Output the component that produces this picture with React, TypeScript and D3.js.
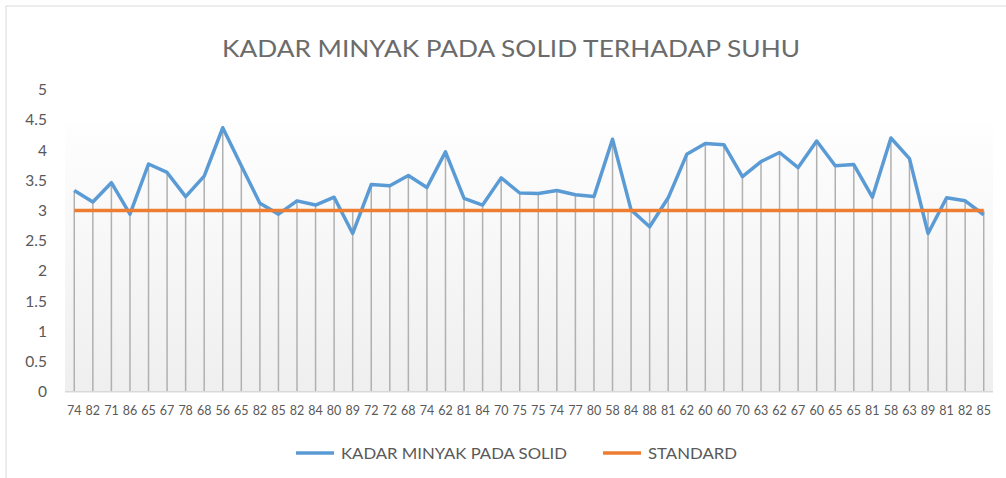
import { useRef, useEffect } from 'react';
import * as d3 from 'd3';

const categories = [
  '74', '82', '71', '86', '65', '67', '78', '68', '56', '65',
  '82', '85', '82', '84', '80', '89', '72', '72', '68', '74',
  '62', '81', '84', '70', '75', '75', '74', '77', '80', '58',
  '84', '88', '81', '62', '60', '60', '70', '63', '62', '67',
  '60', '65', '65', '81', '58', '63', '89', '81', '82', '85',
];

const kadarMinyak = [
  3.33, 3.14, 3.46, 2.94, 3.77, 3.63, 3.23, 3.57, 4.37, 3.74,
  3.12, 2.94, 3.16, 3.09, 3.22, 2.62, 3.43, 3.41, 3.58, 3.38,
  3.97, 3.2, 3.09, 3.54, 3.29, 3.28, 3.33, 3.26, 3.23, 4.18,
  3.01, 2.73, 3.21, 3.93, 4.11, 4.09, 3.56, 3.81, 3.96, 3.71,
  4.15, 3.74, 3.76, 3.22, 4.2, 3.86, 2.62, 3.21, 3.16, 2.93,
];

const standard = categories.map(() => 3);

const yTicks = [0, 0.5, 1, 1.5, 2, 2.5, 3, 3.5, 4, 4.5, 5];

const title = 'KADAR MINYAK PADA SOLID TERHADAP SUHU';
const legendNames = ['KADAR MINYAK PADA SOLID', 'STANDARD'];

const App = () => {
  const svgRef = useRef(null);

  useEffect(() => {
    const w = 1006;
    const h = 478;
    const left = 65;
    const right = 993;
    const top = 89.7;
    const bottom = 391.7;
    const font = 'Lato, "Open Sans", sans-serif';
    const textColor = '#595959';

    const svg = d3.select(svgRef.current).attr('width', w).attr('height', h);
    svg.selectAll('*').remove();

    const xScale = d3
      .scaleBand()
      .domain(categories.map((d, i) => String(i)))
      .range([left, right]);
    const cx = (i) => xScale(String(i)) + xScale.bandwidth() / 2;

    const yScale = d3.scaleLinear().domain([0, 5]).range([bottom, top]);

    // chart border
    svg
      .append('rect')
      .attr('x', 6)
      .attr('y', 6)
      .attr('width', 1020)
      .attr('height', 500)
      .attr('fill', 'white')
      .attr('stroke', '#d9d9d9')
      .attr('stroke-width', 1);

    // plot area gradient
    const grad = svg
      .append('defs')
      .append('linearGradient')
      .attr('id', 'plotGrad')
      .attr('x1', 0)
      .attr('y1', 0)
      .attr('x2', 0)
      .attr('y2', 1);
    grad.append('stop').attr('offset', '0%').attr('stop-color', '#fefefe');
    grad.append('stop').attr('offset', '100%').attr('stop-color', '#efefef');

    svg
      .append('rect')
      .attr('x', left)
      .attr('y', yScale(4.47))
      .attr('width', right - left)
      .attr('height', bottom - yScale(4.47))
      .attr('fill', 'url(#plotGrad)');

    // title
    svg
      .append('text')
      .attr('x', 511)
      .attr('y', 57)
      .attr('text-anchor', 'middle')
      .attr('font-family', font)
      .attr('font-size', 23)
      .attr('fill', '#6b6b6b')
      .attr('textLength', 578)
      .attr('lengthAdjust', 'spacingAndGlyphs')
      .text(title);

    // y tick labels
    svg
      .selectAll('.ytick')
      .data(yTicks)
      .join('text')
      .attr('class', 'ytick')
      .attr('x', 47)
      .attr('y', (d) => yScale(d) + 5.5)
      .attr('text-anchor', 'end')
      .attr('font-family', font)
      .attr('font-size', 15.5)
      .attr('fill', textColor)
      .text((d) => d);

    // drop lines
    svg
      .selectAll('.drop')
      .data(kadarMinyak)
      .join('line')
      .attr('class', 'drop')
      .attr('x1', (d, i) => cx(i))
      .attr('x2', (d, i) => cx(i))
      .attr('y1', (d, i) => yScale(Math.max(d, standard[i])))
      .attr('y2', bottom)
      .attr('stroke', '#b0b0b0')
      .attr('stroke-width', 1.5);

    // x axis line
    svg
      .append('line')
      .attr('x1', left)
      .attr('x2', right)
      .attr('y1', bottom)
      .attr('y2', bottom)
      .attr('stroke', '#d9d9d9')
      .attr('stroke-width', 1.5);

    // x labels
    svg
      .selectAll('.xlab')
      .data(categories)
      .join('text')
      .attr('class', 'xlab')
      .attr('x', (d, i) => cx(i))
      .attr('y', 415)
      .attr('text-anchor', 'middle')
      .attr('font-family', font)
      .attr('font-size', 12.5)
      .attr('fill', textColor)
      .text((d) => d);

    const line = d3
      .line()
      .x((d, i) => cx(i))
      .y((d) => yScale(d))
      .curve(d3.curveLinear);

    svg
      .append('path')
      .attr('d', line(kadarMinyak))
      .attr('fill', 'none')
      .attr('stroke', '#5B9BD5')
      .attr('stroke-width', 3.5)
      .attr('stroke-linejoin', 'round');

    svg
      .append('path')
      .attr('d', line(standard))
      .attr('fill', 'none')
      .attr('stroke', '#ED7D31')
      .attr('stroke-width', 3.5);

    // legend
    const legend = [
      { name: legendNames[0], color: '#5B9BD5', x: 296, len: 226 },
      { name: legendNames[1], color: '#ED7D31', x: 603, len: 89 },
    ];
    const lg = svg.selectAll('.leg').data(legend).join('g').attr('class', 'leg');
    lg.append('line')
      .attr('x1', (d) => d.x)
      .attr('x2', (d) => d.x + 38)
      .attr('y1', 453)
      .attr('y2', 453)
      .attr('stroke', (d) => d.color)
      .attr('stroke-width', 3.5);
    lg.append('text')
      .attr('x', (d) => d.x + 45)
      .attr('y', 459)
      .attr('font-family', font)
      .attr('font-size', 15.5)
      .attr('fill', textColor)
      .attr('textLength', (d) => d.len)
      .attr('lengthAdjust', 'spacingAndGlyphs')
      .text((d) => d.name);
  }, []);

  return (
    <div style={{ position: 'absolute', left: 0, top: 0 }}>
      <svg ref={svgRef} style={{ display: 'block' }}></svg>
    </div>
  );
};

export default App;
